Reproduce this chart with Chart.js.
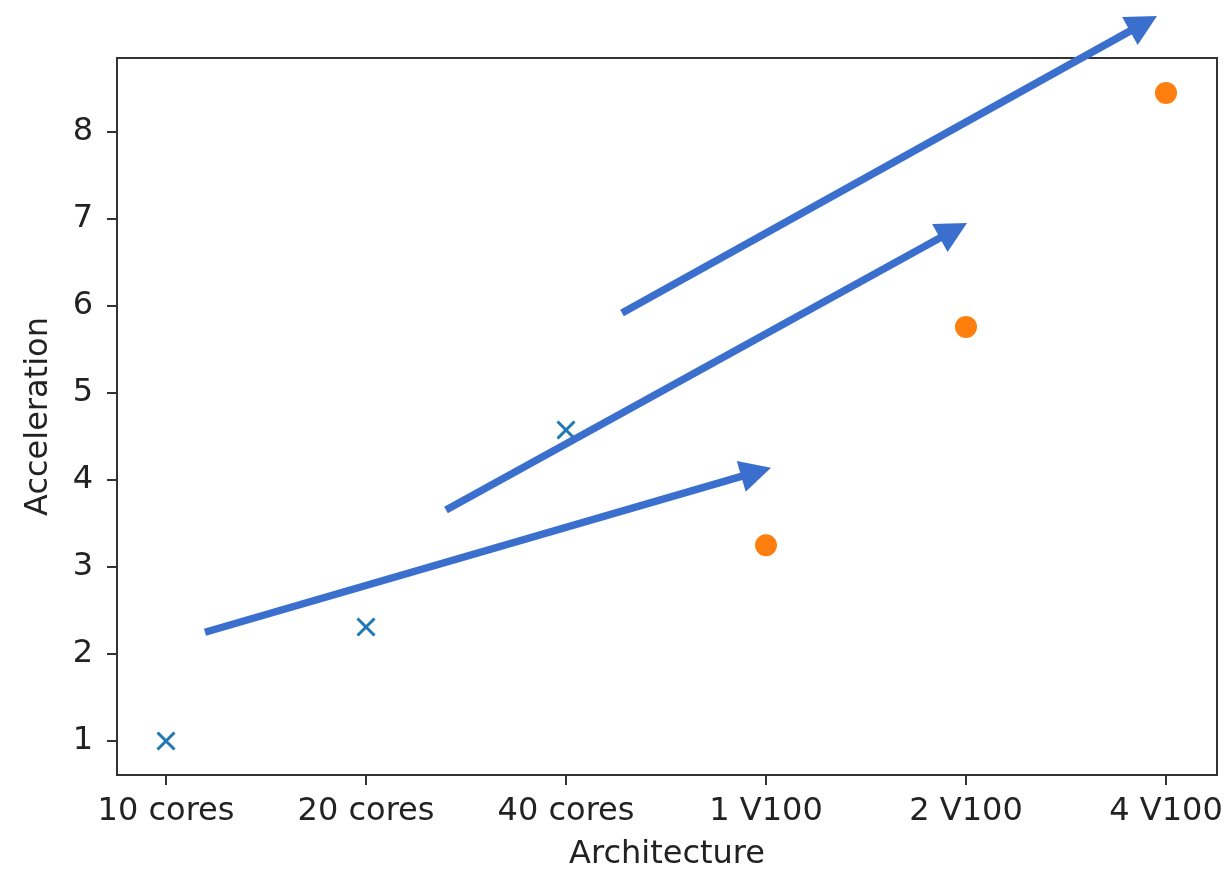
<!DOCTYPE html>
<html>
<head>
  <title>Acceleration by architecture</title>
  <script src="https://cdn.jsdelivr.net/npm/chart.js"></script>
  <style>
    html, body { margin: 0; padding: 0; background: #fff; overflow: hidden; }
    #myChart { display: block; }
  </style>
</head>
<body>
  <canvas id="myChart" width="1226" height="873"></canvas>
  <script>
    // categories on the x axis
    const archLabels = ['10 cores', '20 cores', '40 cores', '1 V100', '2 V100', '4 V100'];
    const yTickValues = [1, 2, 3, 4, 5, 6, 7, 8];

    // CPU runs (blue crosses)
    const cpuX = [0, 1, 2];
    const cpuY = [1.0, 2.31, 4.575];

    // GPU runs (orange dots)
    const gpuX = [3, 4, 5];
    const gpuY = [3.25, 5.76, 8.45];

    // arrows: start and tip in data units
    const arrowStartX = [0.195, 1.4, 2.28];
    const arrowStartY = [2.25, 3.655, 5.92];
    const arrowTipX = [3.025, 4.005, 4.955];
    const arrowTipY = [4.14, 6.954, 9.333];

    const textColor = '#222222';
    const axisColor = '#333333';
    const arrowColor = '#3b6fcd';

    const toPoints = (xs, ys) => xs.map((x, i) => ({ x: x, y: ys[i] }));

    // keep tick labels from pushing the plot area inwards
    const noPadding = s => {
      s.paddingLeft = 0; s.paddingRight = 0; s.paddingTop = 0; s.paddingBottom = 0;
      s.getPadding = () => ({ left: 0, top: 0, right: 0, bottom: 0 });
    };

    const frameAndArrows = {
      id: 'frameAndArrows',
      beforeDatasetsDraw(chart) {
        const { ctx, chartArea: a } = chart;
        ctx.save();
        ctx.strokeStyle = axisColor;
        ctx.lineWidth = 2;
        ctx.strokeRect(a.left, a.top, a.right - a.left, a.bottom - a.top);
        ctx.restore();
      },
      afterDatasetsDraw(chart) {
        const { ctx } = chart;
        const xs = chart.scales.x, ys = chart.scales.y;
        const headLen = 31, headHalf = 16;
        ctx.save();
        ctx.fillStyle = arrowColor;
        ctx.strokeStyle = arrowColor;
        for (let i = 0; i < arrowStartX.length; i++) {
          const x0 = xs.getPixelForValue(arrowStartX[i]);
          const y0 = ys.getPixelForValue(arrowStartY[i]);
          const x1 = xs.getPixelForValue(arrowTipX[i]);
          const y1 = ys.getPixelForValue(arrowTipY[i]);
          const len = Math.hypot(x1 - x0, y1 - y0);
          const ux = (x1 - x0) / len, uy = (y1 - y0) / len;
          const bx = x1 - ux * headLen, by = y1 - uy * headLen;
          ctx.lineWidth = 7.5;
          ctx.lineCap = 'butt';
          ctx.beginPath();
          ctx.moveTo(x0, y0);
          ctx.lineTo(bx + ux * 2, by + uy * 2);
          ctx.stroke();
          ctx.beginPath();
          ctx.moveTo(x1, y1);
          ctx.lineTo(bx - uy * headHalf, by + ux * headHalf);
          ctx.lineTo(bx + uy * headHalf, by - ux * headHalf);
          ctx.closePath();
          ctx.fill();
        }
        ctx.restore();
      }
    };

    const ctx = document.getElementById('myChart').getContext('2d');
    new Chart(ctx, {
      type: 'scatter',
      data: {
        datasets: [
          {
            label: 'CPU',
            data: toPoints(cpuX, cpuY),
            pointStyle: 'crossRot',
            pointRadius: 12,
            borderColor: '#1f77b4',
            backgroundColor: '#1f77b4',
            pointBorderWidth: 3
          },
          {
            label: 'GPU',
            data: toPoints(gpuX, gpuY),
            pointStyle: 'circle',
            pointRadius: 11,
            borderWidth: 0,
            borderColor: '#ff7f0e',
            backgroundColor: '#ff7f0e'
          }
        ]
      },
      options: {
        responsive: false,
        animation: false,
        layout: { autoPadding: false, padding: { left: 0, top: 58, right: 9, bottom: 0 } },
        plugins: {
          legend: { display: false },
          tooltip: { enabled: false }
        },
        scales: {
          x: {
            type: 'linear',
            min: -0.245,
            max: 5.255,
            afterBuildTicks: s => { s.ticks = archLabels.map((l, i) => ({ value: i })); },
            afterFit: s => { s.height = 98; noPadding(s); },
            grid: { drawOnChartArea: false, drawTicks: true, tickLength: 10, color: axisColor, lineWidth: 2 },
            border: { display: true, color: axisColor, width: 2 },
            ticks: {
              color: textColor,
              padding: 7,
              maxRotation: 0,
              autoSkip: false,
              font: { family: 'DejaVu Sans', size: 32 },
              callback: v => archLabels[v]
            },
            title: {
              display: true,
              text: 'Architecture',
              color: textColor,
              font: { family: 'DejaVu Sans', size: 32, lineHeight: 1 },
              padding: { top: 0, bottom: 2 }
            }
          },
          y: {
            min: 0.609,
            max: 8.851,
            afterBuildTicks: s => { s.ticks = yTickValues.map(v => ({ value: v })); },
            afterFit: s => { s.width = 117; noPadding(s); },
            grid: { drawOnChartArea: false, drawTicks: true, tickLength: 10, color: axisColor, lineWidth: 2 },
            border: { display: true, color: axisColor, width: 2 },
            ticks: {
              color: textColor,
              padding: 14,
              font: { family: 'DejaVu Sans', size: 32 },
              callback: v => String(v)
            },
            title: {
              display: true,
              text: 'Acceleration',
              color: textColor,
              font: { family: 'DejaVu Sans', size: 32, lineHeight: 1 },
              padding: { top: 23, bottom: 0 }
            }
          }
        }
      },
      plugins: [frameAndArrows]
    });
  </script>
</body>
</html>
